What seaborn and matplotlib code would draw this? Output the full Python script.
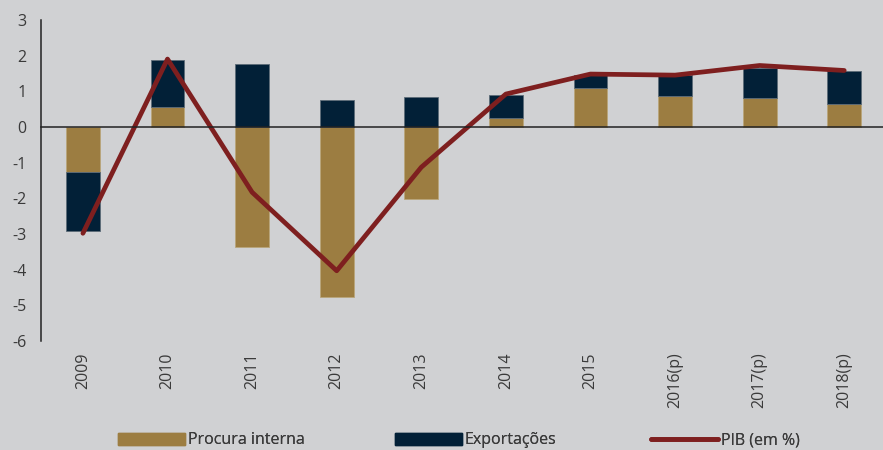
import numpy as np
import pandas as pd
import seaborn as sns
import matplotlib.pyplot as plt
from matplotlib.lines import Line2D
from matplotlib.patches import Patch

# values
years = ["2009", "2010", "2011", "2012", "2013", "2014", "2015", "2016(p)", "2017(p)", "2018(p)"]
procura = [-1.25, 0.57, -3.37, -4.77, -2.02, 0.24, 1.08, 0.86, 0.82, 0.65]
exportacoes = [-1.67, 1.31, 1.75, 0.76, 0.85, 0.66, 0.38, 0.58, 0.83, 0.92]
pib = [-2.98, 1.90, -1.83, -4.03, -1.13, 0.92, 1.48, 1.45, 1.72, 1.58]

df = pd.DataFrame({"ano": years, "procura": procura, "exportacoes": exportacoes, "pib": pib})
# stack exports on top of domestic demand only when both have the same sign
df["base_exp"] = np.where(np.sign(df["procura"]) == np.sign(df["exportacoes"]), df["procura"], 0)

bg = "#d0d1d3"
gold = "#9c7d41"
navy = "#022037"
red = "#7e1f1f"
txt = "#3a3a3a"

sns.set_theme(style="white")
plt.rcParams["font.family"] = ["Open Sans", "DejaVu Sans"]
plt.rcParams["axes.unicode_minus"] = False

fig = plt.figure(figsize=(8.83, 4.5), dpi=100, facecolor=bg)
ax = fig.add_axes([0.046, 0.242, 0.958, 0.714])
ax.set_facecolor(bg)

sns.barplot(data=df, x="ano", y="procura", color=gold, width=0.4, saturation=1,
            edgecolor="#b9a57a", linewidth=0.6, ax=ax)
sns.barplot(data=df, x="ano", y="exportacoes", bottom=df["base_exp"], color=navy, width=0.4,
            saturation=1, edgecolor="#5d6b78", linewidth=0.6, ax=ax)
sns.lineplot(x=np.arange(len(years)), y=df["pib"], color=red, linewidth=3.4,
             solid_capstyle="round", ax=ax)

ax.set_ylim(-6, 3)
ax.set_xlim(-0.5, len(years) - 0.5)
ax.set_yticks(range(-6, 4))
ax.set_xlabel("")
ax.set_ylabel("")

# x axis sits on zero with ticks between categories
for s in ["top", "right"]:
    ax.spines[s].set_visible(False)
ax.spines["bottom"].set_position(("data", 0))
ax.spines["bottom"].set_color("#222222")
ax.spines["bottom"].set_linewidth(1.1)
ax.spines["left"].set_color("#222222")
ax.spines["left"].set_linewidth(1.1)
ax.set_xticks(np.arange(len(years)) + 0.5)
ax.set_xticklabels([])
ax.tick_params(axis="x", direction="out", length=5, width=1, color="#333333")
ax.tick_params(axis="y", direction="out", length=5, width=1, color="#333333",
               labelsize=11.5, labelcolor=txt, pad=5)

sec = ax.secondary_xaxis("bottom")
sec.set_xticks(np.arange(len(years)))
sec.set_xticklabels(years, rotation=90, va="top")
sec.tick_params(length=0, labelsize=11.5, labelcolor=txt, pad=8)
sec.spines["bottom"].set_visible(False)

# one legend entry per slot, placed like the reference
handles = [Patch(facecolor=gold, edgecolor=gold),
           Patch(facecolor=navy, edgecolor=navy),
           Line2D([0], [0], color=red, linewidth=3.4, solid_capstyle="round")]
labels = ["Procura interna", "Exportações", "PIB (em %)"]
slots = [116, 393, 649]
for h, lab, x0 in zip(handles, labels, slots):
    leg = fig.legend([h], [lab], loc="lower left", bbox_to_anchor=(x0 / 883, 0.0),
                     frameon=False, borderpad=0, borderaxespad=0.1,
                     handlelength=4.25, handleheight=0.75, handletextpad=0.15,
                     prop={"size": 11.5}, labelcolor=txt)
    fig.add_artist(leg)

fig.savefig("out.png", dpi=100, facecolor=bg)
